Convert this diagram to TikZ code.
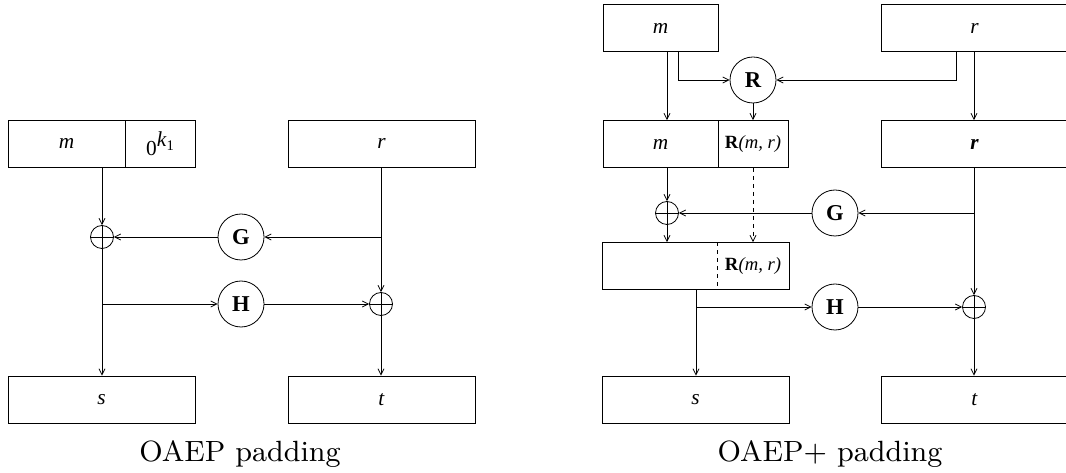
\documentclass[tikz,border=0pt]{standalone}
\usepackage{fontspec}
\newfontfamily\tms{Liberation Serif}
\usetikzlibrary{arrows.meta,calc}
\tikzset{
  field/.style={draw, rectangle, inner sep=0pt, minimum height=35.25pt, font=\tms\fontsize{16}{18}\selectfont},
  w117/.style={minimum width=87.75pt},
  w115/.style={minimum width=86.25pt},
  w70/.style={minimum width=52.5pt},
  w187/.style={minimum width=140.25pt},
  tag/.style={font=\tms\fontsize{14}{16}\selectfont},
  oracle/.style={draw, circle, inner sep=0pt, minimum size=34.5pt, font=\tms\bfseries\fontsize{17}{19}\selectfont},
  xorgate/.style={draw, circle, inner sep=0pt, minimum size=17.25pt},
  flow/.style={-{Straight Barb[length=4.5pt,width=4.5pt]}},
  caption/.style={anchor=base, inner sep=0pt, font=\fontsize{9}{10}\selectfont, scale=2.44}
}
\newcommand{\xorplus}[1]{\draw (#1.north) -- (#1.south) (#1.west) -- (#1.east);}
\begin{document}
\begin{tikzpicture}[x=0.75pt, y=-0.75pt, line width=0.6pt]
\useasboundingbox (0,0) rectangle (1066,473);
\clip (0,0) rectangle (1066,473);

% ---------------- OAEP ----------------
\node[field, w117] (mL) at (66.5,143.5) {\textit{m}};
\node[field, w70] (zL) at (160,143.5) {0\raisebox{7pt}{\textit{k}\raisebox{-3pt}{\fontsize{11}{12}\selectfont 1}}};
\node[field, w187] (rL) at (381.5,143.5) {\textit{r}};
\node[xorgate] (xa) at (102,237) {};
\node[oracle] (G) at (241,237) {G};
\node[oracle] (H) at (241,304) {H};
\node[xorgate] (xb) at (381,304) {};
\node[field, w187] (sL) at (101.5,399.5) {\textit{s}};
\node[field, w187] (tL) at (381.5,399.5) {\textit{t}};
\xorplus{xa}
\xorplus{xb}
\coordinate (gbr) at (381,237);
\coordinate (hbr) at (102,304);

\draw[flow] (mL.south -| xa) -- (xa.north);
\draw[flow] (rL.south -| xb) -- (xb.north);
\draw[flow] (gbr) -- (G.east);
\draw[flow] (G.west) -- (xa.east);
\draw[flow] (xa.south) -- (sL.north -| xa);
\draw[flow] (hbr) -- (H.west);
\draw[flow] (H.east) -- (xb.west);
\draw[flow] (xb.south) -- (tL.north -| xb);

\node[caption] (capL) at (240,461) {OAEP padding};

% ---------------- OAEP+ ----------------
\node[field, w115] (mT) at (660.5,28) {\textit{m}};
\node[field, w187] (rT) at (974.5,28) {\textit{r}};
\node[oracle] (R) at (753,80) {R};
\node[field, w115] (m2) at (660.5,144) {\textit{m}};
\node[field, w70, tag] (Rm) at (753,144) {\textbf{R}\textit{(m, r)}};
\node[field, w187] (r2) at (974.5,144) {\textbf{\textit{r}}};
\node[xorgate] (xc) at (667,213) {};
\node[oracle] (G2) at (835,213) {G};
\node[field, w187] (w) at (695.5,266) {};
\node[field, w70, tag, draw=none] (wR) at (753,266) {\textbf{R}\textit{(m, r)}};
\node[oracle] (H2) at (835,307) {H};
\node[xorgate] (xd) at (974,307) {};
\node[field, w187] (sR) at (695.5,399.5) {\textit{s}};
\node[field, w187] (tR) at (974.5,399.5) {\textit{t}};
\xorplus{xc}
\xorplus{xd}
\draw[dashed] (wR.north west) -- (wR.south west);

\coordinate (mtap) at (678,51);
\coordinate (rtap) at (956,51);
\coordinate (g2br) at (974,213);
\coordinate (h2br) at (696,307);

\draw[flow] (mT.south -| xc) -- (m2.north -| xc);
\draw[flow] (rT.south -| xd) -- (r2.north -| xd);
\draw[flow] (mtap) |- (R.west);
\draw[flow] (rtap) |- (R.east);
\draw[flow] (R.south) -- (Rm.north -| R);
\draw[flow] (m2.south -| xc) -- (xc.north);
\draw[flow] (xc.south) -- (w.north -| xc);
\draw[flow, dashed] (Rm.south -| R) -- (w.north -| R);
\draw[flow] (r2.south -| xd) -- (xd.north);
\draw[flow] (g2br) -- (G2.east);
\draw[flow] (G2.west) -- (xc.east);
\draw[flow] (w.south -| h2br) -- (sR.north -| h2br);
\draw[flow] (h2br) -- (H2.west);
\draw[flow] (H2.east) -- (xd.west);
\draw[flow] (xd.south) -- (tR.north -| xd);

\node[caption] (capR) at (830,461) {OAEP+ padding};
\end{tikzpicture}
\end{document}
